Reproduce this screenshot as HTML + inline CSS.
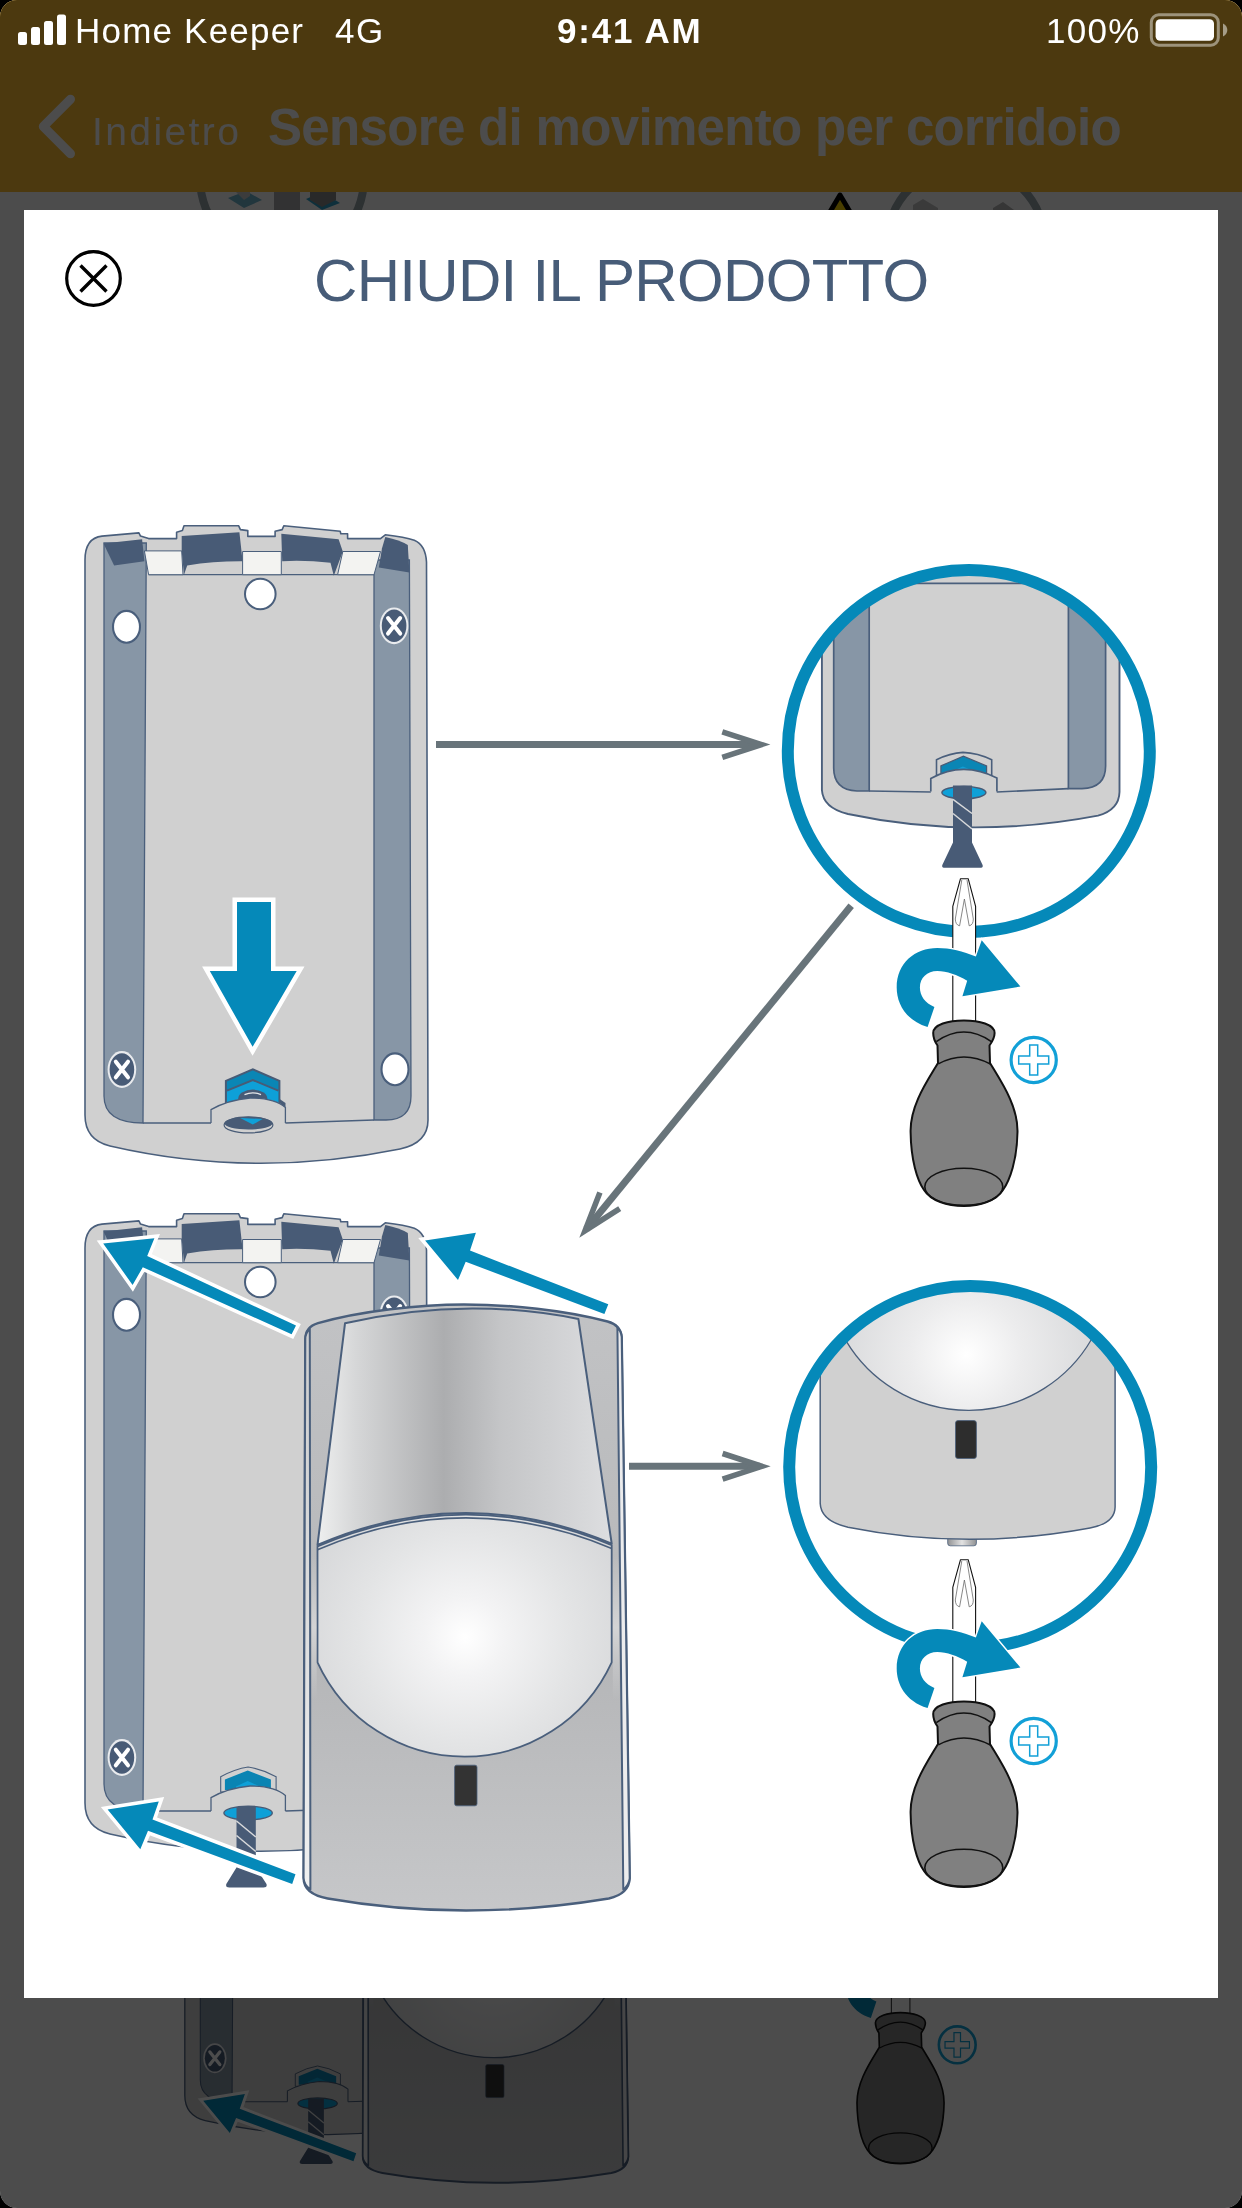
<!DOCTYPE html>
<html><head><meta charset="utf-8">
<style>
html,body{margin:0;padding:0;background:#000;}
body{width:1242px;height:2208px;overflow:hidden;position:relative;font-family:"Liberation Sans",sans-serif;}
#screen{position:absolute;left:0;top:0;width:1242px;height:2208px;border-radius:17px;overflow:hidden;background:#fff;}
.abs{position:absolute;}
#hdr{left:0;top:0;width:1242px;height:192px;background:#ffc034;}
#dim{left:0;top:0;width:1242px;height:2208px;background:rgba(0,0,0,0.7);}
#modal{left:24px;top:210px;width:1194px;height:1788px;background:#fff;overflow:hidden;}
.t{position:absolute;white-space:nowrap;line-height:1;will-change:transform;}
</style></head><body>
<svg width="0" height="0" style="position:absolute">
<defs>

<linearGradient id="gPanel" gradientUnits="userSpaceOnUse" x1="317" y1="0" x2="612" y2="0">
 <stop offset="0" stop-color="#eeefef"/><stop offset="0.13" stop-color="#d6d7d8"/><stop offset="0.43" stop-color="#acadaf"/><stop offset="0.62" stop-color="#c4c5c7"/><stop offset="1" stop-color="#dddee0"/>
</linearGradient>
<radialGradient id="gLens" gradientUnits="userSpaceOnUse" cx="465" cy="1637" r="180">
 <stop offset="0" stop-color="#ffffff"/><stop offset="0.22" stop-color="#f3f3f4"/><stop offset="0.6" stop-color="#e3e4e5"/><stop offset="1" stop-color="#d5d6d8"/>
</radialGradient>
<radialGradient id="gLens2" gradientUnits="userSpaceOnUse" cx="966.3" cy="1354.7" r="140">
 <stop offset="0" stop-color="#ffffff"/><stop offset="0.4" stop-color="#ececed"/><stop offset="1" stop-color="#d6d7d9"/>
</radialGradient>
<linearGradient id="gCover" gradientUnits="userSpaceOnUse" x1="0" y1="1320" x2="0" y2="1910">
 <stop offset="0" stop-color="#c1c2c4"/><stop offset="0.58" stop-color="#b5b6b8"/><stop offset="1" stop-color="#c6c7c9"/>
</linearGradient>
<linearGradient id="gNub" gradientUnits="userSpaceOnUse" x1="947" y1="0" x2="977" y2="0">
 <stop offset="0" stop-color="#8d8e90"/><stop offset="0.5" stop-color="#e2e2e2"/><stop offset="1" stop-color="#8d8e90"/>
</linearGradient>
<linearGradient id="gSl" gradientUnits="userSpaceOnUse" x1="0" y1="1330" x2="0" y2="1890">
 <stop offset="0" stop-color="#cdcecf"/><stop offset="0.5" stop-color="#dcddde"/><stop offset="1" stop-color="#f0f0f0"/>
</linearGradient>
<linearGradient id="gHi" gradientUnits="userSpaceOnUse" x1="0" y1="1555" x2="0" y2="1700">
 <stop offset="0" stop-color="#fff" stop-opacity="0"/><stop offset="0.5" stop-color="#fff" stop-opacity="0.4"/><stop offset="1" stop-color="#fff" stop-opacity="0"/>
</linearGradient>
<clipPath id="c1"><circle cx="968.8" cy="750.9" r="181"/></clipPath>
<clipPath id="c2"><circle cx="970.2" cy="1467" r="181"/></clipPath>


<g id="bp">
<path d="M85,560 Q85,538 102,536.1 L138.9,532.9 L140.5,536.1 L148.6,538.6 L176.6,538.6 L176.6,532.2 L182.4,530.6 L184,525.8 L238.7,525.8 L240.4,529.6 L247.8,530.6 L247.8,536.4 L275.1,536.4 L275.1,531.2 L282.2,529.6 L283.8,525.8 L340.2,531.2 L340.8,533.8 L347.6,533.8 L347.6,538.6 L380.5,538.6 L385.3,534.8 Q405,537 414.3,540.3 Q425.5,545 426.5,562 L428,1120 Q428,1143 400,1149 Q253,1179 110,1146 Q85,1140 85,1115 Z" fill="#d0d0d0" stroke="#4a5f7c" stroke-width="1.6" stroke-linejoin="round"/>
<!-- stripes -->
<path d="M104,543 L146.3,543 L143,1123 Q104,1123 104,1096 Z" fill="#8796a6" stroke="#4a5f7c" stroke-width="1.3"/>
<path d="M374,560 L409.4,560 L411,1096 Q411,1120 386,1120 L374,1120 Z" fill="#8796a6" stroke="#4a5f7c" stroke-width="1.3"/>
<!-- floor top edge -->
<path d="M148.6,574.7 L374,574.7" stroke="#4a5f7c" stroke-width="1.3" fill="none"/>
<!-- white pieces -->
<path d="M144.4,550.9 L181.7,550.9 L183,574.7 L148.6,574.7 Z" fill="#f3f3f1" stroke="#4a5f7c" stroke-width="1"/>
<path d="M242.6,551.5 L281.3,551.5 L281.3,574.7 L242.6,574.7 Z" fill="#f3f3f1" stroke="#4a5f7c" stroke-width="1"/>
<path d="M342.8,551.5 L380.5,551.5 L374,574.7 L337.6,574.7 Z" fill="#f3f3f1" stroke="#4a5f7c" stroke-width="1"/>
<!-- dark parts -->
<path d="M103.5,543.5 L142.1,539.3 L144.4,561.2 L114.1,565.4 Z" fill="#485b76"/>
<path d="M181.7,536 L239.4,532.2 L242.6,561.2 Q214,561 187.2,565.4 L184,574.7 L181.7,551 Z" fill="#485b76"/>
<path d="M281.3,533.8 L338.6,539.3 L342.8,551.5 L333.8,575.7 L330.5,562.8 Q306,560 282.2,561.2 Z" fill="#485b76"/>
<path d="M385.3,537 Q400,540 407.8,545.1 L409.4,572.5 L378.8,567.6 L382,548.3 Z" fill="#485b76"/>
<!-- floor bottom line -->
<path d="M143,1123 L211,1123 M285.4,1123 L374,1120" stroke="#4a5f7c" stroke-width="1.3" fill="none"/>
<!-- holes -->
<circle cx="260.3" cy="594" r="15.3" fill="#fff" stroke="#4a5f7c" stroke-width="2"/>
<ellipse cx="126.5" cy="626.8" rx="13.5" ry="15.9" fill="#fff" stroke="#4a5f7c" stroke-width="2.1"/>
<ellipse cx="395" cy="1069.3" rx="13.5" ry="15.9" fill="#fff" stroke="#4a5f7c" stroke-width="2.1"/>
<g id="xm"><ellipse cx="394.1" cy="625.8" rx="14.3" ry="18.4" fill="#e9ebee"/><ellipse cx="394.1" cy="625.8" rx="12.3" ry="16.3" fill="#485b76"/><path d="M388,618 L400.2,633.6 M400.2,618 L388,633.6" stroke="#fff" stroke-width="4" stroke-linecap="round"/></g>
<use href="#xm" x="-272.2" y="443.7"/>
</g>

<g id="ill">
<use href="#bp"/>

<path d="M279.6,1099 L285.5,1103 L285.5,1109 L279.6,1109 Z" fill="#485b76"/>
<path d="M225.9,1080.9 L252.8,1069.3 L279.4,1080.9 L279.4,1106 L225.9,1106 Z" fill="#0a86b5" stroke="#485b76" stroke-width="2" stroke-linejoin="miter"/>
<path d="M227,1090.6 L252.8,1080 L278.3,1090.6 L278.3,1106 L227,1106 Z" fill="#0ea0d8"/>
<path d="M227,1090.6 L252.8,1080 L278.3,1090.6" fill="none" stroke="#485b76" stroke-width="2"/>
<ellipse cx="252.8" cy="1098.3" rx="14.5" ry="8.7" fill="#485b76"/>
<path d="M244.5,1094.6 Q252.8,1091 261,1094.6" fill="none" stroke="#e6e8ea" stroke-width="1.2"/>
<path d="M211,1123 L211,1109.6 Q228,1100 250,1098 Q275,1098 285.4,1107.5 L285.4,1123" fill="#d0d0d0" stroke="#4a5f7c" stroke-width="1.3"/>
<ellipse cx="248.5" cy="1124.9" rx="24.4" ry="8" fill="#d0d0d0" stroke="#485b76" stroke-width="1.2"/>
<ellipse cx="248.5" cy="1123.2" rx="24" ry="6.4" fill="#485b76"/>
<path d="M240.2,1118 L262.5,1119 L252.8,1124.6 Z" fill="#0ea0d8"/>

<path d="M237,902 L271,902 L271,971 L296.7,971 L252.6,1046.8 L209.8,971 L237,971 Z" fill="#0589b9" stroke="#fff" stroke-width="9" paint-order="stroke" stroke-linejoin="miter"/>
<path d="M436.0,744.6 L759.4,744.6" stroke="#68747a" stroke-width="7" fill="none"/><path d="M722.3,757.4 L761.4,744.6 L722.3,731.8" stroke="#68747a" stroke-width="5.6" fill="none" stroke-linejoin="miter" stroke-miterlimit="10"/>
<path d="M851.2,905.8 L586.3,1229.2" stroke="#68747a" stroke-width="7" fill="none"/><path d="M599.9,1192.4 L585.0,1230.7 L619.7,1208.6" stroke="#68747a" stroke-width="5.6" fill="none" stroke-linejoin="miter" stroke-miterlimit="10"/>
<path d="M629.0,1466.3 L759.7,1466.3" stroke="#68747a" stroke-width="7" fill="none"/><path d="M722.6,1479.1 L761.7,1466.3 L722.6,1453.5" stroke="#68747a" stroke-width="5.6" fill="none" stroke-linejoin="miter" stroke-miterlimit="10"/>

<g clip-path="url(#c1)">
<path d="M821.9,560 L821.9,790 Q823,808 848,814 Q969.7,840 1098,815.6 Q1119,810 1119.5,792 L1119.5,560 Z" fill="#d0d0d0" stroke="#4a5f7c" stroke-width="1.9"/>
<path d="M833.7,560 L869.2,560 L869.2,791 L857,791 Q833.7,790 833.7,768 Z" fill="#8796a6" stroke="#4a5f7c" stroke-width="1.7"/>
<path d="M1068.4,560 L1105.6,560 L1105.6,766 Q1105.6,788 1082,788.6 L1068.4,788.6 Z" fill="#8796a6" stroke="#4a5f7c" stroke-width="1.7"/>
<path d="M869,583.3 L1068.4,583.3" stroke="#4a5f7c" stroke-width="1.7"/>
<path d="M869.2,791 L930.8,792 M996.7,792 L1068.4,788.6" stroke="#4a5f7c" stroke-width="1.7" fill="none"/>
<path d="M936.5,759.8 Q950,753 962.9,752.4 Q978,753 991.7,759.8 L991.7,776 L936.5,776 Z" fill="#d0d0d0" stroke="#4a5f7c" stroke-width="1.6"/>
<path d="M940.9,765.9 L963.4,756.2 L986.6,765.9 L986.6,775 L940.9,775 Z" fill="#0a86b5" stroke="#485b76" stroke-width="1.2"/>
<path d="M950,772 L962.9,766.5 L976,772 L976,775 L950,775 Z" fill="#0ea0d8"/>
<path d="M930.8,791.5 L930.8,778.5 Q963,760.5 996.9,778 L996.9,791.5" fill="#d0d0d0" stroke="#4a5f7c" stroke-width="1.7"/>
<ellipse cx="963.9" cy="792.6" rx="22" ry="6.2" fill="#0ea0d8" stroke="#485b76" stroke-width="1.4"/>
</g>


<path d="M953,785.5 L972,785.5 L972,842.5 L982.6,864.9 Q983.6,867.8 979.6,867.8 L945.3,867.8 Q941.3,867.8 942.3,864.9 L953,842.5 Z" fill="#485b76"/><path d="M953,799.3 L972,813.5" stroke="#d9dadb" stroke-width="1.5" fill="none"/><path d="M953,813.5 L972,829" stroke="#d9dadb" stroke-width="1.5" fill="none"/>
<circle cx="968.8" cy="750.9" r="181" fill="none" stroke="#0589b9" stroke-width="12"/>
<g transform="translate(0,0)">
<path d="M960.5,878.7 L968.2,878.7 L975.6,906.4 L975.6,1023 L952.8,1023 L952.8,906.4 Z" fill="#fff" stroke="#111" stroke-width="1.1" stroke-linejoin="round"/>
<path d="M961.8,880 L955.3,919 Q955.5,925 959.6,925.8 L964.4,899 L969.2,925.8 Q973.3,925 973.3,919 L967,880" fill="none" stroke="#6a6a6a" stroke-width="0.8"/>
<path d="M933.2,1033 C933.2,1016.2 994.6,1016.2 994.6,1033 C994.6,1038 992,1042 989.5,1045.5 L990,1063 C1000,1080 1018,1105 1017.5,1132 C1017,1160 1010,1180 1003,1190 C996,1201 980,1206 963.8,1206 C947,1206 931,1201 924,1190 C917,1180 911,1160 910.6,1132 C910,1105 928,1080 938,1063 L937.5,1045.5 C935,1042 933.2,1038 933.2,1033 Z" fill="#808080" stroke="#111" stroke-width="2" stroke-linejoin="round"/>
<path d="M936.3,1041.6 Q963.8,1022.5 991.4,1041.6" fill="none" stroke="#111" stroke-width="1.6"/>
<path d="M938.3,1063.9 Q963.8,1050 990.4,1064" fill="none" stroke="#111" stroke-width="1.6"/>
<ellipse cx="963.8" cy="1186.8" rx="39" ry="18.6" fill="none" stroke="#111" stroke-width="1.6"/>
<path d="M927.6,1027.1 C905,1020 896.7,1003 896.7,987.5 C896.7,963 915,947.9 937.3,947.9 C950,947.9 963,951 975.9,956.6 L981.7,940.2 L1020.4,986.6 L962.4,996.2 L967.2,980.8 C957,975 947,971.1 937.3,971.1 C927,971.1 919.9,978 919.9,987.5 C919.9,996 925,1003 934.4,1006.9 Z" fill="#0589b9" stroke="#fff" stroke-width="3" paint-order="stroke"/>
<circle cx="1033.7" cy="1060" r="22.6" fill="#fff" stroke="#12a0d7" stroke-width="3.2"/>
<path d="M1029.7,1045 h8 v11 h11 v8 h-11 v11 h-8 v-11 h-11 v-8 h11 z" fill="none" stroke="#12a0d7" stroke-width="1.5"/>
</g>
<use href="#bp" y="688"/>

<path d="M220.7,1776.7 Q235,1769 248.1,1767 Q262,1769 276.1,1776.7 L276.1,1792 L220.7,1792 Z" fill="#d0d0d0" stroke="#4a5f7c" stroke-width="1.1"/>
<path d="M224.9,1779.6 L247.7,1770.5 L270.9,1779.6 L270.9,1790 L224.9,1790 Z" fill="#0a84b3"/>
<path d="M236,1786.5 L247.7,1781 L260,1786.5 L260,1790 L236,1790 Z" fill="#0ea0d8"/>
<path d="M211,1811 L211,1797.6 Q228,1788 250,1786 Q275,1786 285.4,1795.5 L285.4,1811" fill="#d0d0d0" stroke="#4a5f7c" stroke-width="1.3"/>
<ellipse cx="248.1" cy="1813" rx="24.2" ry="6.8" fill="#0ea0d8" stroke="#485b76" stroke-width="1.4"/>

<path d="M236.5,1807 L255.8,1807 L255.8,1867.5 L266.5,1884 Q267.5,1887.4 263.5,1887.4 L229.3,1887.4 Q225.3,1887.4 226.3,1884 L236.5,1867.5 Z" fill="#485b76"/><path d="M236.5,1821 L255.8,1837" stroke="#d9dadb" stroke-width="1.5" fill="none"/><path d="M236.5,1835.5 L255.8,1851.5" stroke="#d9dadb" stroke-width="1.5" fill="none"/>

<path d="M305.3,1339.3 Q305.3,1327 318,1323.2 C 360,1311 420,1304.5 463.9,1304.5 C 510,1304.5 565,1310 607.6,1321.5 Q620.6,1325 621.7,1337 L629.7,1878.3 Q629,1894 608.8,1898.5 Q463.9,1922.5 327.7,1898.5 Q303.6,1894 303.6,1878 Z" fill="url(#gCover)" stroke="#4a5f7c" stroke-width="2.4" stroke-linejoin="round"/>
<path d="M305.3,1339.3 Q305.3,1333 309.8,1329 L310.4,1889.5 Q304,1885 303.6,1878 Z" fill="url(#gSl)" stroke="#4a5f7c" stroke-width="2" stroke-linejoin="round"/>
<path d="M621.7,1337 Q621,1331 617.4,1327.5 L623.3,1889.5 Q629,1885 629.7,1878.3 Z" fill="#ececed" stroke="#4a5f7c" stroke-width="2" stroke-linejoin="round"/>
<path d="M317.5,1546.5 Q463.9,1483.3 611.7,1545.1 L611.7,1662.3 A161.8,161.8 0 0 1 317.5,1662.3 Z" fill="url(#gLens)" stroke="#4a5f7c" stroke-width="1.8" stroke-linejoin="round"/>
<path d="M317.5,1549.8 Q463.9,1486.6 611.7,1548.4" fill="none" stroke="#4a5f7c" stroke-width="1.6"/>
<path d="M345,1323.3 Q463.9,1295.9 578.4,1319 L611.7,1543.6 Q463.9,1481.8 317.5,1545 Z" fill="url(#gPanel)" stroke="#4a5f7c" stroke-width="2" stroke-linejoin="round"/>
<rect x="454.6" y="1765.2" width="22.4" height="40.6" rx="2" fill="#333" stroke="#4a5f7c" stroke-width="0.8"/>
<rect x="311.5" y="1555" width="5.2" height="145" fill="url(#gHi)"/>
<rect x="612.8" y="1555" width="6.4" height="145" fill="url(#gHi)"/>

<path d="M103.2,1243.5 L154.4,1238.3 L147.2,1256 L296,1325.6 L291.6,1334.3 L142.8,1267.2 L132.6,1285 Z" fill="#0589b9" stroke="#fff" stroke-width="7.2" paint-order="stroke" stroke-linejoin="miter" stroke-miterlimit="10"/>
<path d="M425.1,1240.5 L475.9,1232.8 L470,1250.6 L608.3,1304.3 L604.4,1314 L465.7,1261.8 L458,1280 Z" fill="#0589b9" stroke="#fff" stroke-width="7.2" paint-order="stroke" stroke-linejoin="miter" stroke-miterlimit="10"/>
<path d="M107.6,1809.6 L158.8,1801.4 L152.5,1819.6 L295.5,1874.3 L292.2,1884 L148,1830.8 L140.3,1849.2 Z" fill="#0589b9" stroke="#fff" stroke-width="7.2" paint-order="stroke" stroke-linejoin="miter" stroke-miterlimit="10"/>

<g clip-path="url(#c2)">
<rect x="947.7" y="1536" width="28.7" height="9.8" rx="2.5" fill="url(#gNub)" stroke="#4a5f7c" stroke-width="0.8"/>
<path d="M820.2,1280 L820.2,1503.5 Q821,1521 848,1527.2 Q966.3,1551 1090,1528 Q1115,1523 1115.1,1506.9 L1115.1,1280 Z" fill="#d0d0d0" stroke="#4a5f7c" stroke-width="1.5"/>
<path d="M846.2,1270 L846.2,1341.2 A142.4,142.4 0 0 0 1091.4,1339.5 L1091.4,1270 Z" fill="url(#gLens2)" stroke="#4a5f7c" stroke-width="1.3"/>
<rect x="955.5" y="1420.6" width="20.9" height="37.9" rx="2.5" fill="#2d2d2d" stroke="#4a5f7c" stroke-width="0.8"/>
</g>
<circle cx="970.2" cy="1467" r="181" fill="none" stroke="#0589b9" stroke-width="12"/>

<g transform="translate(0,681)">
<path d="M960.5,878.7 L968.2,878.7 L975.6,906.4 L975.6,1023 L952.8,1023 L952.8,906.4 Z" fill="#fff" stroke="#111" stroke-width="1.1" stroke-linejoin="round"/>
<path d="M961.8,880 L955.3,919 Q955.5,925 959.6,925.8 L964.4,899 L969.2,925.8 Q973.3,925 973.3,919 L967,880" fill="none" stroke="#6a6a6a" stroke-width="0.8"/>
<path d="M933.2,1033 C933.2,1016.2 994.6,1016.2 994.6,1033 C994.6,1038 992,1042 989.5,1045.5 L990,1063 C1000,1080 1018,1105 1017.5,1132 C1017,1160 1010,1180 1003,1190 C996,1201 980,1206 963.8,1206 C947,1206 931,1201 924,1190 C917,1180 911,1160 910.6,1132 C910,1105 928,1080 938,1063 L937.5,1045.5 C935,1042 933.2,1038 933.2,1033 Z" fill="#808080" stroke="#111" stroke-width="2" stroke-linejoin="round"/>
<path d="M936.3,1041.6 Q963.8,1022.5 991.4,1041.6" fill="none" stroke="#111" stroke-width="1.6"/>
<path d="M938.3,1063.9 Q963.8,1050 990.4,1064" fill="none" stroke="#111" stroke-width="1.6"/>
<ellipse cx="963.8" cy="1186.8" rx="39" ry="18.6" fill="none" stroke="#111" stroke-width="1.6"/>
<path d="M927.6,1027.1 C905,1020 896.7,1003 896.7,987.5 C896.7,963 915,947.9 937.3,947.9 C950,947.9 963,951 975.9,956.6 L981.7,940.2 L1020.4,986.6 L962.4,996.2 L967.2,980.8 C957,975 947,971.1 937.3,971.1 C927,971.1 919.9,978 919.9,987.5 C919.9,996 925,1003 934.4,1006.9 Z" fill="#0589b9" stroke="#fff" stroke-width="3" paint-order="stroke"/>
<circle cx="1033.7" cy="1060" r="22.6" fill="#fff" stroke="#12a0d7" stroke-width="3.2"/>
<path d="M1029.7,1045 h8 v11 h11 v8 h-11 v11 h-8 v-11 h-11 v-8 h11 z" fill="none" stroke="#12a0d7" stroke-width="1.5"/>
</g>
</g>
</defs>
</svg>
<div id="screen">
  <!-- background page (dimmed) -->
  <svg class="abs" style="left:0;top:0" width="1242" height="2208" viewBox="0 0 1242 2208">
    
<circle cx="282" cy="178" r="82" fill="none" stroke="#98a4a8" stroke-width="8"/>
<circle cx="966" cy="244" r="79" fill="none" stroke="#98a4a8" stroke-width="8"/>
<path d="M228,198 L246,191 L262,200 L244,208 Z" fill="#6fb4cc"/><path d="M236,192 L250,187 L250,196 L244,200 Z" fill="#c8c8c8"/>
<path d="M274,185 L290,185 L300,192 L300,215 L274,215 Z" fill="#a8a8ac"/>
<path d="M306,199 L322,192 L340,203 L322,210 Z" fill="#2f9fc6"/><path d="M310,185 L336,185 L336,200 L322,207 L310,200 Z" fill="#8a8a8a"/>
<path d="M913,205 L923,199 L938,208 L938,215 L913,215 Z" fill="#c4c4c4"/>
<path d="M993,208 L1003,202 L1014,210 L1014,215 L993,215 Z" fill="#b4b4b4"/>
<path d="M840,195 L856,222 L824,222 Z" fill="#f5d000" stroke="#000" stroke-width="5" stroke-linejoin="round"/>

    <use href="#ill" transform="translate(115.6,627.3) scale(0.8142)"/>
  </svg>
  <div id="hdr" class="abs">
    <svg class="abs" style="left:0;top:0" width="1242" height="192"><path d="M70.5 99.3 L43.3 126.5 L70.5 153.7" fill="none" stroke="#fff" stroke-width="9" stroke-linecap="round" stroke-linejoin="round"/></svg>
    <div class="t" id="back" style="left:92px;top:112px;font-size:39px;letter-spacing:2.4px;color:#fff;">Indietro</div>
    <div class="t" id="title" style="left:268px;top:102px;font-size:51px;letter-spacing:-0.67px;font-weight:bold;color:#fff;">Sensore di movimento per corridoio</div>
  </div>
  <div id="dim" class="abs"></div>
  <!-- status bar -->
  <svg class="abs" style="left:0;top:0" width="1242" height="64">
    <g fill="#fff">
      <rect x="18" y="32" width="9" height="13" rx="2.5"/>
      <rect x="31" y="27" width="9" height="18" rx="2.5"/>
      <rect x="44" y="21" width="9" height="24" rx="2.5"/>
      <rect x="57" y="14.5" width="9" height="30.5" rx="2.5"/>
    </g>
    <rect x="1151.3" y="14.8" width="67" height="30.4" rx="7.5" fill="none" stroke="#fff" stroke-opacity="0.45" stroke-width="3"/>
    <rect x="1155.6" y="19.2" width="58.4" height="21.6" rx="4.5" fill="#fff"/>
    <path d="M1223 23.5 q4.3 2.2 4.3 6.5 q0 4.3 -4.3 6.5 z" fill="#fff" fill-opacity="0.5"/>
  </svg>
  <div class="t" id="carrier" style="left:75px;top:13px;font-size:35px;letter-spacing:1.2px;color:#fff;">Home Keeper</div>
  <div class="t" id="net" style="left:335px;top:13px;font-size:35px;letter-spacing:1.5px;color:#fff;">4G</div>
  <div class="t" id="time" style="left:557px;top:13px;font-size:35px;letter-spacing:1.8px;font-weight:bold;color:#fff;">9:41 AM</div>
  <div class="t" id="batt" style="left:1046px;top:13px;font-size:35px;letter-spacing:1.3px;color:#fff;">100%</div>
  <!-- modal -->
  <div id="modal" class="abs">
    <svg class="abs" style="left:-24px;top:-210px" width="1242" height="2208" viewBox="0 0 1242 2208">
      <use href="#ill"/>
      <circle cx="93.5" cy="278.5" r="26.8" fill="none" stroke="#000" stroke-width="3.2"/>
      <path d="M80.5 265.5 L106.5 291.5 M106.5 265.5 L80.5 291.5" stroke="#000" stroke-width="3.4" fill="none"/>
    </svg>
    <div class="t" id="mt" style="left:289.5px;top:40.5px;font-size:60px;letter-spacing:-0.68px;color:#475c78;">CHIUDI IL PRODOTTO</div>
  </div>
</div>
</body></html>
